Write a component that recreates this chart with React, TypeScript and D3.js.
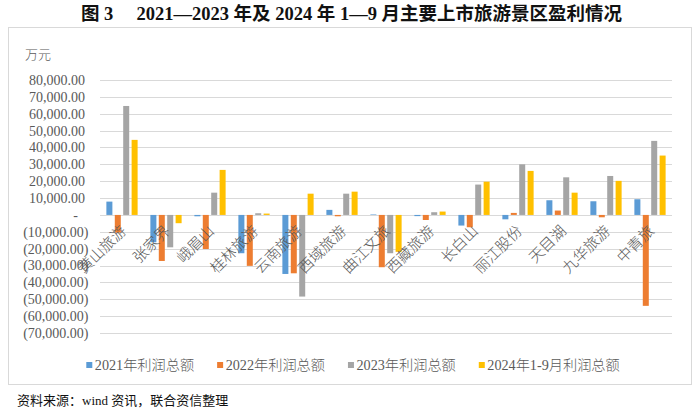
import React, { useEffect, useRef } from 'react';
import * as d3 from 'd3';

const categories = ["黄山旅游", "张家界", "峨眉山", "桂林旅游", "云南旅游", "西域旅游", "曲江文旅", "西藏旅游", "长白山", "丽江股份", "天目湖", "九华旅游", "中青旅"];
const seriesNames = ["2021年利润总额", "2022年利润总额", "2023年利润总额", "2024年1-9月利润总额"];
const seriesColors = ["#5B9BD5", "#ED7D31", "#A5A5A5", "#FFC000"];
const profit2021 = [7900, -16200, -800, -22700, -35000, 3000, 300, -700, -6300, -2600, 8700, 8100, 9300];
const profit2022 = [-10500, -27300, -20200, -30200, -34600, -800, -31000, -3000, -7300, 1200, 2600, -1400, -53900];
const profit2023 = [64600, -19200, 13200, 1000, -48400, 12600, -22700, 1600, 18000, 30000, 22300, 23100, 43900];
const profit2024 = [44500, -4900, 26700, 800, 12600, 13800, -21900, 2000, 19700, 26100, 13200, 20200, 35200];
const yTicks = [80000, 70000, 60000, 50000, 40000, 30000, 20000, 10000, 0, -10000, -20000, -30000, -40000, -50000, -60000, -70000];
const titleText = "图 3     2021—2023 年及 2024 年 1—9 月主要上市旅游景区盈利情况";
const unitText = "万元";
const sourceText = "资料来源：wind 资讯，联合资信整理";

const CJK = "'Noto Sans CJK SC'";
const SERIF = "'Liberation Serif', 'Noto Sans CJK SC'";

export default function App() {
  const ref = useRef<SVGSVGElement>(null);

  useEffect(() => {
    const svg = d3.select(ref.current);
    svg.selectAll('*').remove();
    const W = 700, H = 409;
    const plot = { left: 100, right: 672, top: 80, bottom: 333 };
    const series = [profit2021, profit2022, profit2023, profit2024];

    svg.append('rect').attr('width', W).attr('height', H).attr('fill', '#fff');

    // title
    svg.append('text')
      .attr('x', 351.5).attr('y', 20)
      .attr('text-anchor', 'middle')
      .style('white-space', 'pre')
      .attr('font-family', SERIF).attr('font-size', 18.5).attr('font-weight', 'bold')
      .attr('fill', '#111')
      .text(titleText);

    // frame
    svg.append('rect')
      .attr('x', 8.5).attr('y', 27.5).attr('width', 683).attr('height', 357)
      .attr('fill', '#fff').attr('stroke', '#D9D9D9').attr('stroke-width', 1);

    const y = d3.scaleLinear().domain([-70000, 80000]).range([plot.bottom, plot.top]);
    const x0 = d3.scaleBand<string>().domain(categories).range([plot.left, plot.right]).paddingInner(0.29).paddingOuter(0.145);
    const x1 = d3.scaleBand<number>().domain(d3.range(series.length)).range([0, x0.bandwidth()]).paddingInner(0.286);

    // grid
    svg.append('g').selectAll('line').data(yTicks).join('line')
      .attr('x1', plot.left).attr('x2', plot.right)
      .attr('y1', d => Math.round(y(d)) + 0.5).attr('y2', d => Math.round(y(d)) + 0.5)
      .attr('stroke', '#D9D9D9').attr('stroke-width', 1);

    // y labels
    const fmt = d3.format(',.2f');
    svg.append('g').selectAll('text').data(yTicks).join('text')
      .attr('x', d => d < 0 ? 88.5 : d === 0 ? 78 : 85)
      .attr('y', d => y(d))
      .attr('dy', '0.35em')
      .attr('text-anchor', 'end')
      .attr('font-family', SERIF).attr('font-size', 14).attr('fill', '#595959')
      .text(d => d === 0 ? '-' : d < 0 ? `(${fmt(-d)})` : fmt(d));

    svg.append('text').attr('x', 25).attr('y', 54).attr('dy', '0.35em')
      .attr('font-family', CJK).attr('font-size', 13).attr('font-weight', 300).attr('fill', '#595959').text(unitText);

    // bars
    const zero = y(0);
    const g = svg.append('g');
    series.forEach((vals, si) => {
      g.append('g').selectAll('rect').data(vals).join('rect')
        .attr('x', (_, i) => (x0(categories[i]) as number) + (x1(si) as number))
        .attr('width', x1.bandwidth())
        .attr('y', d => Math.min(y(d), zero))
        .attr('height', d => Math.abs(y(d) - zero))
        .attr('fill', seriesColors[si]);
    });

    // category labels
    svg.append('g').selectAll('text').data(categories).join('text')
      .attr('transform', d => `translate(${(x0(d) as number) + x0.bandwidth() / 2 + 5},${zero + 17}) rotate(-45)`)
      .attr('text-anchor', 'end')
      .attr('font-family', CJK).attr('font-size', 15).attr('font-weight', 300).attr('fill', '#595959')
      .text(d => d);

    // legend
    const lg = svg.append('g');
    const items = lg.selectAll('g').data(seriesNames).join('g');
    items.append('rect').attr('width', 6).attr('height', 6).attr('y', -3)
      .attr('fill', (_, i) => seriesColors[i]);
    items.append('text').attr('x', 8.5).attr('dy', '0.35em')
      .attr('font-family', SERIF).attr('font-size', 14.2).attr('font-weight', 300).attr('fill', '#595959')
      .text(d => d);
    let cx = 0;
    const gap = 23;
    items.each(function () {
      const t = d3.select(this).select('text').node() as SVGTextElement;
      const w = 8.5 + t.getComputedTextLength();
      d3.select(this).attr('transform', `translate(${cx},365)`);
      cx += w + gap;
    });
    const total = cx - gap;
    lg.attr('transform', `translate(${353 - total / 2},0)`);

    // source
    svg.append('text').attr('x', 17).attr('y', 400).attr('dy', '0.35em')
      .attr('font-family', SERIF).attr('font-size', 13).attr('fill', '#111')
      .text(sourceText);
  }, []);

  return <svg ref={ref} width={700} height={409} style={{ position: 'absolute', left: 0, top: 0 }} />;
}
